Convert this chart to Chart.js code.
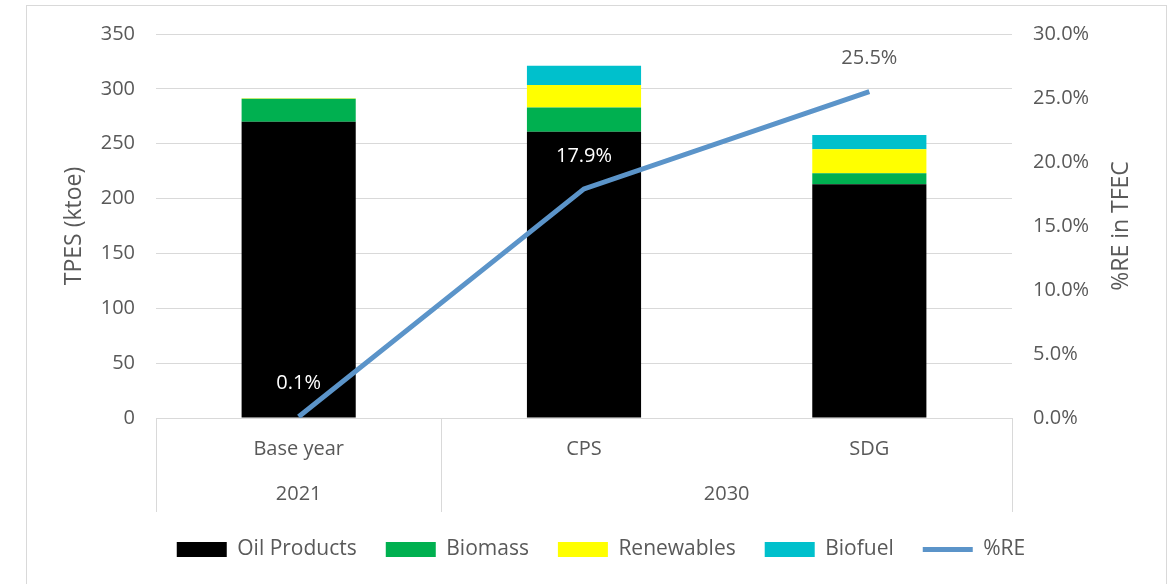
<!DOCTYPE html>
<html><head><meta charset="utf-8">
<script src="https://cdn.jsdelivr.net/npm/chart.js@4"></script>
<style>
html,body{margin:0;padding:0;background:#fff;}
#wrap{position:relative;width:1170px;height:584px;overflow:hidden;}
#frame{position:absolute;left:26px;top:5px;width:1141px;height:600px;border:1px solid #d9d9d9;box-sizing:border-box;pointer-events:none;}
canvas{position:absolute;left:0;top:0;}
</style></head><body>
<div id="wrap"><canvas id="c" width="1170" height="584"></canvas><div id="frame"></div></div>
<script>
const categories = ['Base year', 'CPS', 'SDG'];
const groupLabels = ['2021', '2030'];
const groupSpans = [1, 2];
const oilProducts = [270, 261, 213];
const biomass = [21, 22, 10];
const renewables = [0.5, 20.5, 22];
const biofuel = [0, 17.5, 13];
const reShare = [0.1, 17.9, 25.5];
const reLabels = ['0.1%', '17.9%', '25.5%'];
const leftTickValues = [0, 50, 100, 150, 200, 250, 300, 350];
const rightTickValues = [0, 5, 10, 15, 20, 25, 30];
const rightTitle = '%RE in TFEC';

const FONT = 'Open Sans';
const FS = 20;
const TFS = 23;
const GREY = '#595959';
const labelColors = ['#ffffff', '#ffffff', GREY];

const customPlugin = {
  id: 'custom',
  afterDatasetsDraw(chart) {
    const ctx = chart.ctx;
    ctx.save();
    ctx.font = FS + 'px ' + FONT;
    ctx.textAlign = 'center';
    ctx.textBaseline = 'middle';
    const meta = chart.getDatasetMeta(4);
    meta.data.forEach((pt, i) => {
      ctx.fillStyle = labelColors[i];
      ctx.fillText(reLabels[i], pt.x, pt.y - 33);
    });
    ctx.restore();
  },
  afterDraw(chart) {
    const ctx = chart.ctx, xs = chart.scales.x, ca = chart.chartArea;
    const half = (xs.getPixelForValue(1) - xs.getPixelForValue(0)) / 2;
    ctx.save();
    ctx.strokeStyle = '#d9d9d9';
    ctx.lineWidth = 1;
    let start = 0;
    const bounds = [ca.left];
    ctx.font = FS + 'px ' + FONT;
    ctx.fillStyle = GREY;
    ctx.textAlign = 'center';
    ctx.textBaseline = 'middle';
    groupSpans.forEach((span, g) => {
      const end = start + span - 1;
      const x0 = xs.getPixelForValue(start) - half;
      const x1 = xs.getPixelForValue(end) + half;
      bounds.push(x1);
      ctx.fillText(groupLabels[g], (x0 + x1) / 2, ca.bottom + 76);
      start += span;
    });
    bounds.forEach(b => {
      const bx = Math.round(b) + 0.5;
      ctx.beginPath();
      ctx.moveTo(bx, ca.bottom);
      ctx.lineTo(bx, ca.bottom + 94);
      ctx.stroke();
    });
    // right axis title, reading bottom-to-top
    ctx.translate(1121, (ca.top + ca.bottom) / 2);
    ctx.rotate(-Math.PI / 2);
    ctx.font = TFS + 'px ' + FONT;
    ctx.fillText(rightTitle, 0, 0);
    ctx.restore();
  }
};

new Chart(document.getElementById('c'), {
  data: {
    labels: categories,
    datasets: [
      { type: 'bar', label: 'Oil Products', data: oilProducts, backgroundColor: '#000000', yAxisID: 'y', order: 1, barPercentage: 0.8, categoryPercentage: 0.5 },
      { type: 'bar', label: 'Biomass', data: biomass, backgroundColor: '#00b050', yAxisID: 'y', order: 1, barPercentage: 0.8, categoryPercentage: 0.5 },
      { type: 'bar', label: 'Renewables', data: renewables, backgroundColor: '#ffff00', yAxisID: 'y', order: 1, barPercentage: 0.8, categoryPercentage: 0.5 },
      { type: 'bar', label: 'Biofuel', data: biofuel, backgroundColor: '#00c0cc', yAxisID: 'y', order: 1, barPercentage: 0.8, categoryPercentage: 0.5 },
      { type: 'line', label: '%RE', data: reShare, borderColor: '#5b94c9', backgroundColor: '#5b94c9', borderWidth: 5, pointRadius: 0, yAxisID: 'y1', order: 0, tension: 0 }
    ]
  },
  options: {
    responsive: false,
    devicePixelRatio: 1,
    animation: false,
    layout: { padding: { left: 32, right: 0, top: 34, bottom: 14 } },
    plugins: {
      tooltip: { enabled: false },
      legend: {
        position: 'bottom',
        labels: {
          usePointStyle: true,
          pointStyleWidth: 50,
          boxHeight: 15,
          padding: 29,
          color: GREY,
          font: { family: FONT, size: 21 },
          sort: (a, b) => a.datasetIndex - b.datasetIndex,
          generateLabels(chart) {
            const items = Chart.defaults.plugins.legend.labels.generateLabels(chart);
            items.forEach(it => {
              const ds = chart.data.datasets[it.datasetIndex];
              if (ds.type === 'line') { it.pointStyle = 'line'; it.strokeStyle = ds.borderColor; it.lineWidth = 5; }
              else { it.pointStyle = 'rect'; it.lineWidth = 0; it.fillStyle = ds.backgroundColor; }
            });
            return items;
          }
        }
      }
    },
    scales: {
      x: {
        stacked: true,
        grid: { display: false },
        border: { display: false },
        ticks: { color: GREY, font: { family: FONT, size: FS }, padding: 11, maxRotation: 0 },
        afterFit(s) { s.height = 92; }
      },
      y: {
        stacked: true,
        position: 'left',
        min: 0, max: 350,
        afterBuildTicks(s) { s.ticks = leftTickValues.map(v => ({ value: v })); },
        grid: { color: '#d9d9d9', drawTicks: false },
        border: { display: false },
        ticks: { color: GREY, font: { family: FONT, size: FS }, padding: 21 },
        title: { display: true, text: 'TPES (ktoe)', color: GREY, font: { family: FONT, size: TFS }, padding: { top: 29, bottom: 0 } },
        afterFit(s) { s.width = 124; }
      },
      y1: {
        position: 'right',
        min: 0, max: 30,
        afterBuildTicks(s) { s.ticks = rightTickValues.map(v => ({ value: v })); },
        grid: { display: false, drawTicks: false },
        border: { display: false },
        ticks: { color: GREY, font: { family: FONT, size: FS }, padding: 21, callback: v => v.toFixed(1) + '%' },
        afterFit(s) { s.width = 158; }
      }
    }
  },
  plugins: [customPlugin]
});
</script>
</body></html>
